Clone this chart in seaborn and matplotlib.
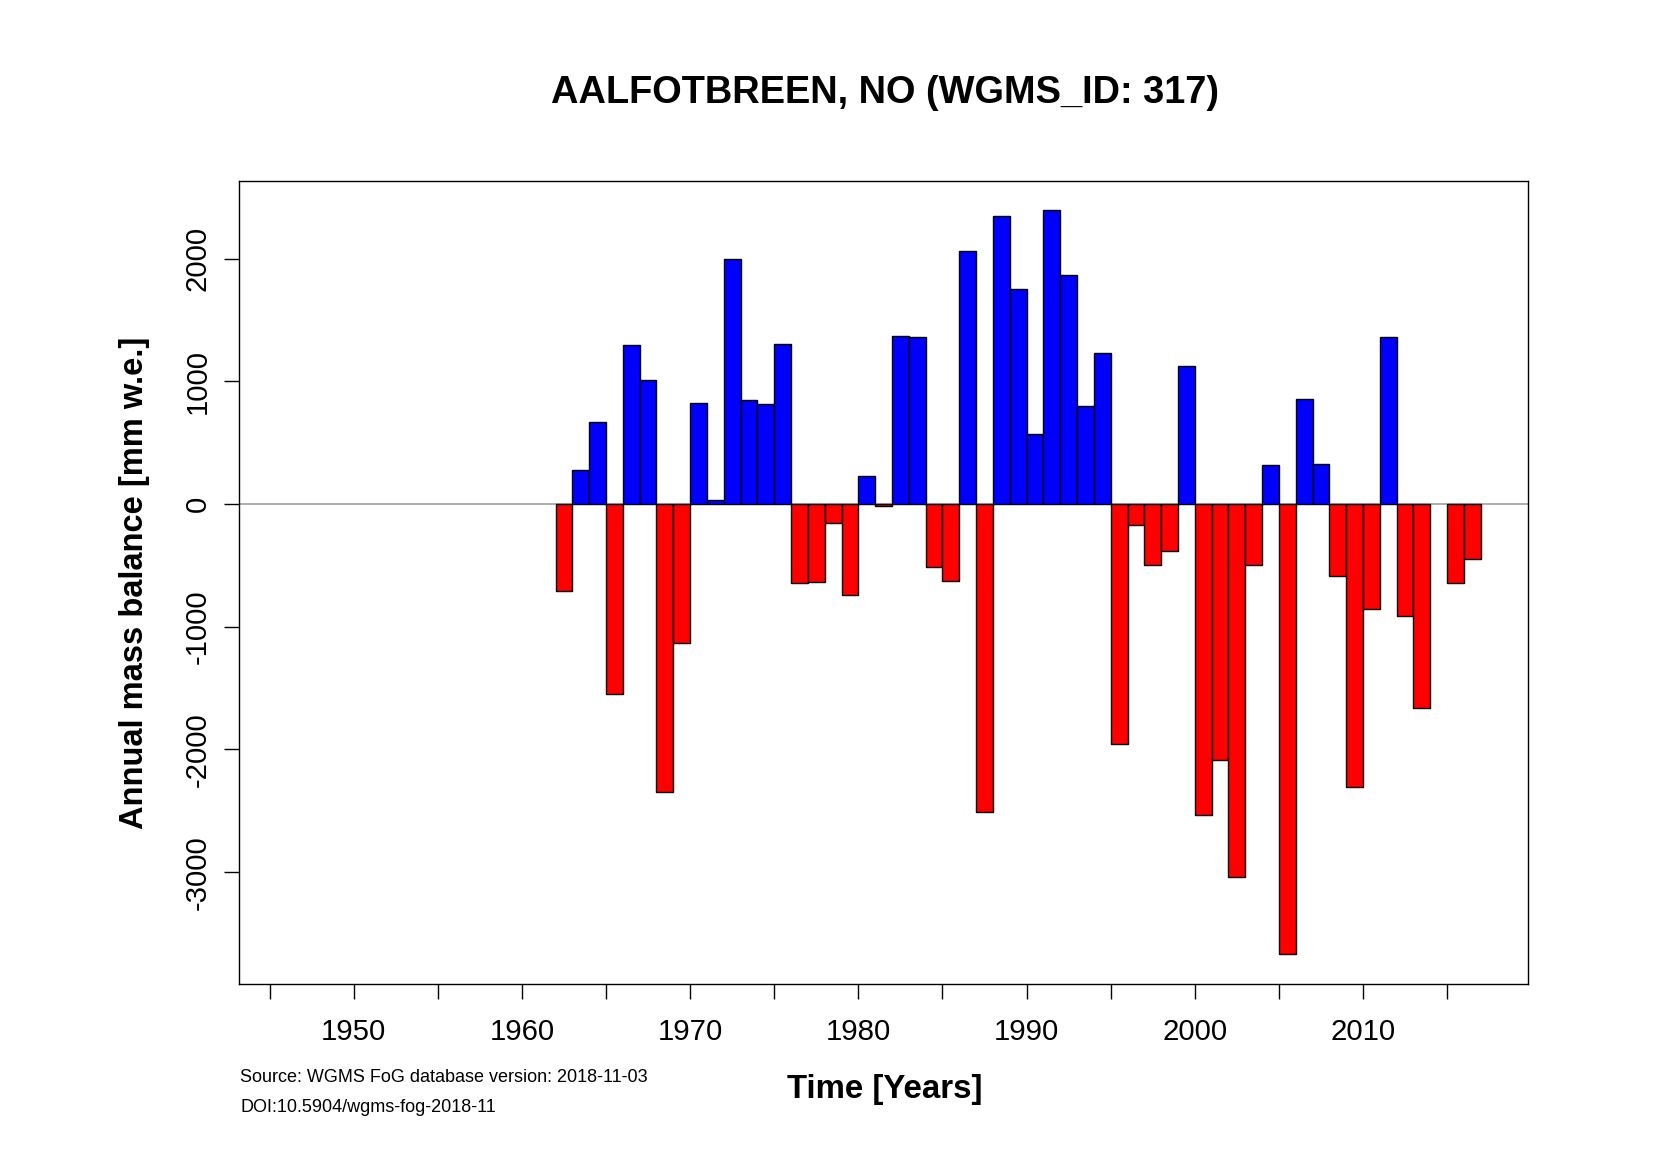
import numpy as np
import pandas as pd
import matplotlib
matplotlib.use("Agg")
import matplotlib.pyplot as plt
import seaborn as sns

# ---- data ----
years = [1963, 1964, 1965, 1966, 1967, 1968, 1969, 1970, 1971, 1972,
         1973, 1974, 1975, 1976, 1977, 1978, 1979, 1980, 1981, 1982,
         1983, 1984, 1985, 1986, 1987, 1988, 1989, 1990, 1991, 1992,
         1993, 1994, 1995, 1996, 1997, 1998, 1999, 2000, 2001, 2002,
         2003, 2004, 2005, 2006, 2007, 2008, 2009, 2010, 2011, 2012,
         2013, 2014, 2016, 2017]
balance = [-706, 279, 671, -1550, 1298, 1010, -2350, -1135, 825, 35,
           2000, 845, 812, 1300, -640, -632, -155, -738, 228, -17,
           1372, 1362, -510, -627, 2065, -2510, 2345, 1755, 566, 2398,
           1866, 795, 1230, -1955, -172, -494, -380, 1128, -2535, -2085,
           -3040, -494, 314, -3665, 855, 322, -590, -2310, -858, 1362,
           -915, -1660, -643, -452]

title = "AALFOTBREEN, NO (WGMS_ID: 317)"
xlabel = "Time [Years]"
ylabel = "Annual mass balance [mm w.e.]"
source_lines = ["Source: WGMS FoG database version: 2018-11-03",
                "DOI:10.5904/wgms-fog-2018-11"]
xticks_major = [1950, 1960, 1970, 1980, 1990, 2000, 2010]
xticks_minor = [1945, 1955, 1965, 1975, 1985, 1995, 2005, 2015]
yticks = [-3000, -2000, -1000, 0, 1000, 2000]

# ---- styling ----
sns.set_style("ticks")
plt.rcParams['font.family'] = ['Liberation Sans', 'DejaVu Sans']
plt.rcParams['text.color'] = 'black'
plt.rcParams['axes.labelcolor'] = 'black'
plt.rcParams['xtick.color'] = 'black'
plt.rcParams['ytick.color'] = 'black'

df = pd.DataFrame({"year": years, "balance": balance})
# bar for a mass-balance year Y spans the hydrological year (Y-1, Y)
df["xpos"] = df["year"] - 0.5
df["sign"] = np.where(df["balance"] >= 0, "pos", "neg")

fig = plt.figure(figsize=(16.79, 11.65), dpi=100)
ax = fig.add_axes([0.1425, 0.155, 0.910 - 0.1425, 0.845 - 0.155])

ax.axhline(0, color="#a0a0a0", lw=1.2, zorder=0)

sns.barplot(data=df, x="xpos", y="balance", hue="sign",
            palette={"pos": "#0000ff", "neg": "#ff0000"},
            native_scale=True, width=1.0, dodge=False, saturation=1,
            edgecolor="black", linewidth=1.0, errorbar=None,
            legend=False, ax=ax, zorder=2)

ax.set_xlim(1943.2, 2019.8)
ax.set_ylim(-3915, 2635)

ax.set_xticks(xticks_major)
ax.set_xticklabels([str(v) for v in xticks_major])
ax.set_xticks(xticks_minor, minor=True)
ax.set_yticks(yticks)
ax.set_yticklabels([str(v) for v in yticks], rotation=90, va="center")

ax.tick_params(axis="both", which="both", direction="out", length=11,
               width=1.0, color="black", labelcolor="black")
ax.tick_params(axis="x", which="major", labelsize=21.2, pad=13)
ax.tick_params(axis="y", which="major", labelsize=21.2, pad=9)

for sp in ax.spines.values():
    sp.set_visible(True)
    sp.set_color("black")
    sp.set_linewidth(1.0)

ax.set_xlabel("")
ax.set_ylabel("")

fig.text(0.527, 0.920, title, ha="center", va="center",
         fontsize=27.4, fontweight="bold", color="black")
fig.text(0.527, 0.065, xlabel, ha="center", va="center",
         fontsize=23.8, fontweight="bold", color="black")
fig.text(0.080, 0.50, ylabel, ha="center", va="center", rotation=90,
         fontsize=23.5, fontweight="bold", color="black")
fig.text(0.143, 0.0747, source_lines[0], ha="left", va="center",
         fontsize=13.0, color="black")
fig.text(0.143, 0.049, source_lines[1], ha="left", va="center",
         fontsize=13.0, color="black")

fig.savefig("out.png", dpi=100)
